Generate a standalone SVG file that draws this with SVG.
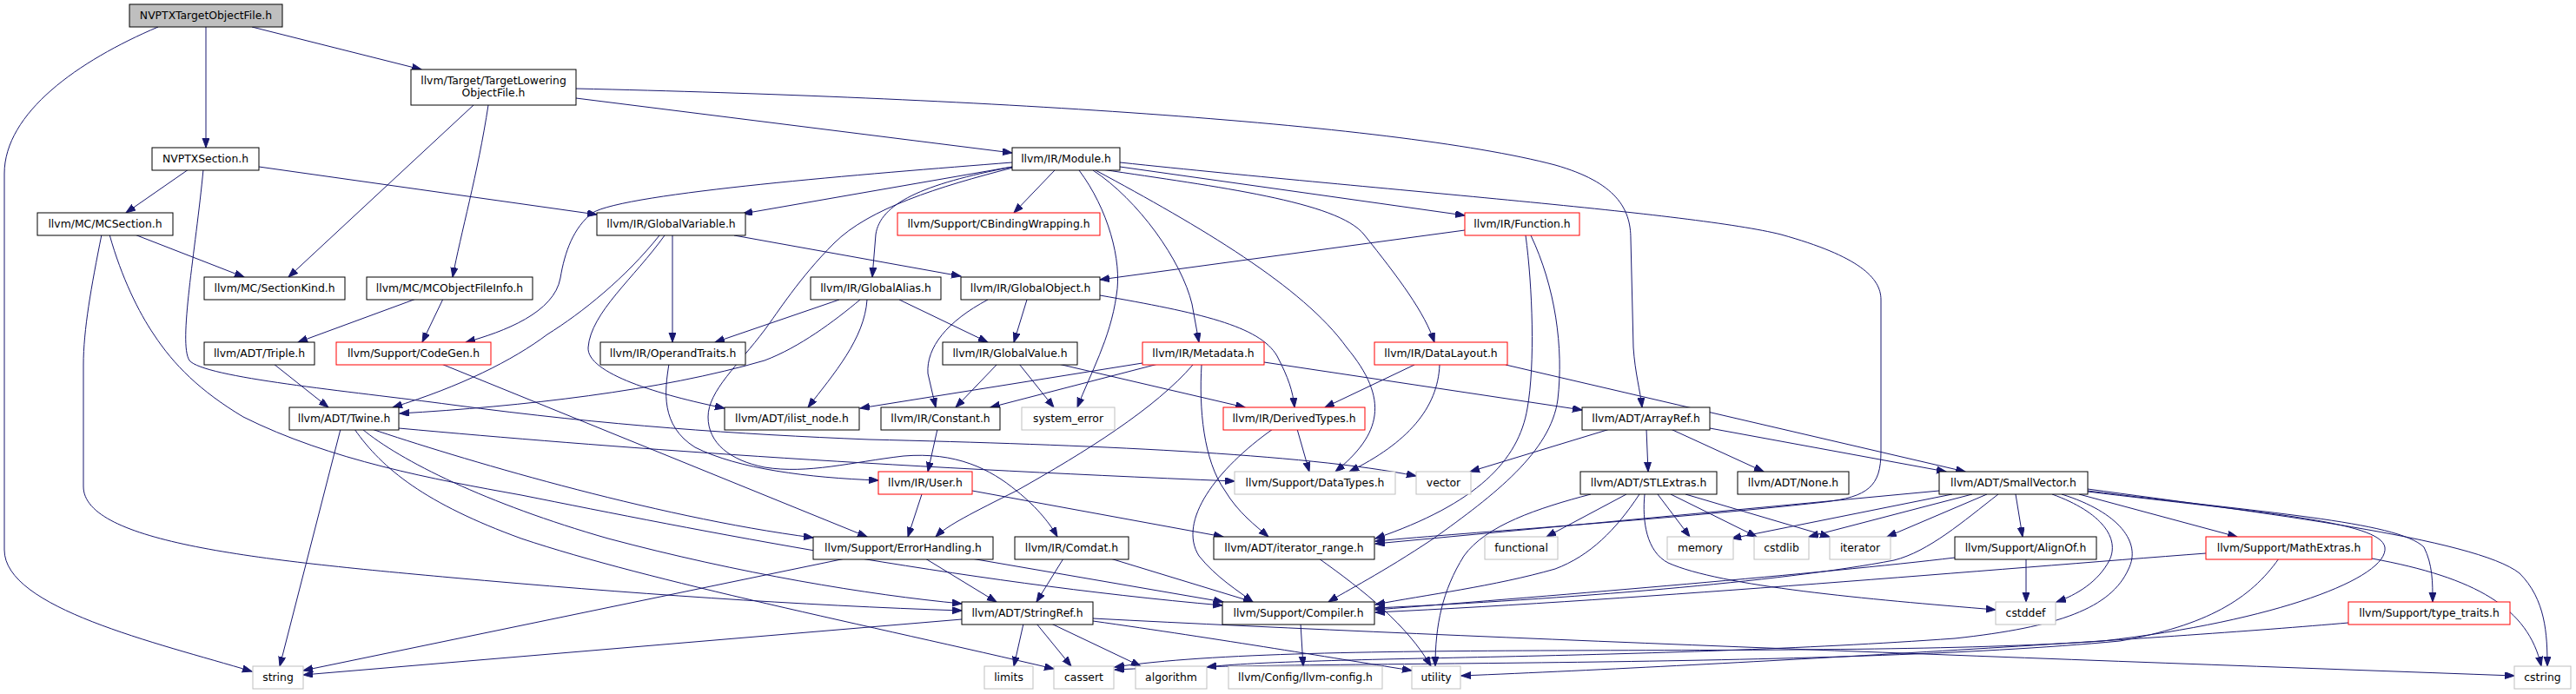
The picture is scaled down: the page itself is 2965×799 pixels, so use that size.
<svg xmlns="http://www.w3.org/2000/svg" width="2965" height="799" viewBox="0 0 2965 799">
<style>
.node rect{fill:#fff;stroke:#000;stroke-width:1}
.node.red rect{stroke:#ff0000}
.node.sys rect{stroke:#bfbfbf}
.node.root rect{fill:#bfbfbf}
.node text{font-family:"DejaVu Sans","Liberation Sans",sans-serif;font-size:12.4px;text-anchor:middle;fill:#000}
#edges path{fill:none;stroke:#191970;stroke-width:1;marker-end:url(#arr)}
</style>
<defs>
<marker id="arr" markerUnits="userSpaceOnUse" markerWidth="12" markerHeight="10" refX="11" refY="4" orient="auto">
<path d="M0,0 L11,4 L0,8 z" fill="#191970" stroke="#191970" stroke-width="1"/>
</marker>
</defs>
<rect width="2965" height="799" fill="#fff"/>
<g id="edges">
<path d="M182,31 C90,70 5,130 5,200 L5,633 C5,700 180,740 290,773"/>
<path d="M237,31 L237,170"/>
<path d="M290,31 L485,80"/>
<path d="M663,113 L1165,176"/>
<path d="M663,102 C1100,112 1600,140 1790,190 C1860,210 1877,240 1877,275 L1880,400 C1882,430 1888,450 1890,469"/>
<path d="M545,121 L332,319"/>
<path d="M562,121 C550,200 530,270 521,319"/>
<path d="M217,195 L145,245"/>
<path d="M298,192 L687,247"/>
<path d="M234,195 C225,290 205,395 218,415 C235,435 400,450 520,466 C700,490 850,500 1000,506 C1250,512 1500,522 1630,548"/>
<path d="M155,270 L281,319"/>
<path d="M117,270 C105,330 96,380 96,420 L96,560 C96,625 300,645 520,665 C720,683 920,697 1107,703"/>
<path d="M126,270 C140,320 160,360 177,385 C200,420 230,450 280,480 C380,530 500,552 600,570 C800,610 1100,670 1407,697"/>
<path d="M1165,187 C1000,200 720,222 682,245 C660,262 650,290 645,320 C638,360 580,382 536,394"/>
<path d="M1165,192 L855,246"/>
<path d="M1166,193 C1080,215 1000,240 960,280 C920,320 895,360 880,380 C850,420 815,450 815,480 C815,510 840,530 880,538 C930,546 980,532 1040,525 C1100,520 1140,540 1170,565 C1195,585 1210,605 1217,618"/>
<path d="M1166,192 C1060,212 1013,235 1008,270 L1004,319"/>
<path d="M1214,196 L1167,245"/>
<path d="M1242,196 C1275,240 1292,300 1285,340 C1278,390 1255,430 1240,469"/>
<path d="M1258,196 C1310,230 1360,300 1372,350 L1380,394"/>
<path d="M1261,196 C1380,260 1500,330 1550,400 C1600,460 1590,500 1537,543"/>
<path d="M1268,195 C1400,215 1540,232 1570,270 C1610,320 1640,360 1651,394"/>
<path d="M1289,192 L1686,248"/>
<path d="M1289,187 C1600,220 1950,245 2050,270 C2140,295 2165,320 2165,345 L2165,520 C2165,560 2150,572 2100,578 C1900,600 1700,612 1583,623"/>
<path d="M759,271 C720,320 670,360 630,385 C590,415 530,445 452,469"/>
<path d="M765,271 C730,320 680,360 677,400 C675,430 760,455 834,470"/>
<path d="M774,271 L774,394"/>
<path d="M845,271 L1106,318"/>
<path d="M966,345 L823,394"/>
<path d="M990,345 C960,370 920,400 880,415 C760,450 600,468 460,476"/>
<path d="M998,345 C995,390 960,430 930,469"/>
<path d="M1035,345 L1137,394"/>
<path d="M1137,345 C1090,370 1066,400 1068,430 L1077,469"/>
<path d="M1182,345 L1167,394"/>
<path d="M1266,340 C1380,360 1450,375 1470,410 C1483,435 1488,450 1490,469"/>
<path d="M1686,265 L1266,322"/>
<path d="M1756,271 C1764,330 1767,420 1758,470 C1748,530 1700,580 1583,620"/>
<path d="M1762,271 C1790,330 1800,400 1793,460 C1785,520 1720,570 1650,620 C1590,660 1550,680 1529,693"/>
<path d="M479,344 L343,394"/>
<path d="M510,344 L486,394"/>
<path d="M1148,419 L1100,469"/>
<path d="M1173,419 L1213,469"/>
<path d="M1218,419 L1433,469"/>
<path d="M1315,418 L990,470"/>
<path d="M1333,419 L1140,469"/>
<path d="M1373,420 C1330,470 1250,520 1170,565 C1120,590 1090,605 1077,618"/>
<path d="M1383,420 C1380,470 1385,530 1410,565 C1425,590 1445,605 1460,618"/>
<path d="M1455,417 L1821,472"/>
<path d="M1628,420 L1525,469"/>
<path d="M1657,420 C1655,470 1620,510 1553,543"/>
<path d="M1733,420 L2262,543"/>
<path d="M315,419 L378,469"/>
<path d="M508,419 L998,618"/>
<path d="M770,419 C765,450 760,490 800,515 C850,540 930,550 1011,553"/>
<path d="M392,494 L322,767"/>
<path d="M459,493 C700,515 1000,537 1421,554"/>
<path d="M428,494 C520,525 750,595 936,619"/>
<path d="M417,494 C460,530 560,580 700,620 C850,660 1000,685 1107,695"/>
<path d="M408,494 C440,540 490,580 600,620 C750,670 1000,720 1213,770"/>
<path d="M1079,494 L1068,543"/>
<path d="M1493,494 L1507,543"/>
<path d="M1465,494 C1400,540 1355,600 1380,640 C1400,665 1425,680 1442,693"/>
<path d="M1853,494 L1692,543"/>
<path d="M1895,494 L1897,543"/>
<path d="M1923,494 L2030,543"/>
<path d="M1968,493 L2240,543"/>
<path d="M1061,569 L1045,618"/>
<path d="M1119,565 L1408,618"/>
<path d="M1831,569 C1770,585 1710,605 1685,640 C1660,680 1652,720 1652,767"/>
<path d="M1872,569 L1780,618"/>
<path d="M1887,569 C1860,610 1830,640 1790,655 C1720,675 1640,685 1583,696"/>
<path d="M1893,569 C1890,600 1895,635 1920,648 C1980,675 2150,690 2297,702"/>
<path d="M1908,569 L1945,618"/>
<path d="M1923,569 L2022,618"/>
<path d="M1940,569 L2106,618"/>
<path d="M2232,565 L1583,626"/>
<path d="M2247,569 L1993,620"/>
<path d="M2270,569 L2082,618"/>
<path d="M2287,569 L2172,618"/>
<path d="M2300,569 C2260,600 2220,635 2180,645 C2050,670 1800,690 1583,700"/>
<path d="M2320,569 L2328,618"/>
<path d="M2362,569 C2420,590 2440,620 2428,645 C2415,670 2390,685 2367,693"/>
<path d="M2373,569 C2440,590 2465,625 2450,655 C2430,700 2370,722 2250,735 C1900,760 1500,755 1389,768"/>
<path d="M2393,569 L2575,618"/>
<path d="M2403,565 C2600,590 2760,600 2790,630 C2800,650 2800,670 2800,693"/>
<path d="M2403,563 C2600,590 2850,620 2900,660 C2930,690 2932,730 2932,767"/>
<path d="M2403,566 C2600,590 2740,600 2745,630 C2750,665 2620,715 2420,738 C2100,760 1500,735 1283,768"/>
<path d="M2250,642 C2100,660 1800,685 1583,702"/>
<path d="M2332,643 L2332,693"/>
<path d="M2539,637 C2300,655 1900,690 1583,705"/>
<path d="M2730,643 C2850,665 2910,700 2925,767"/>
<path d="M2623,643 C2590,690 2540,720 2440,738 C2100,770 1500,760 1283,771"/>
<path d="M2703,717 C2500,735 2000,765 1682,778"/>
<path d="M1518,643 C1570,680 1620,720 1647,767"/>
<path d="M1497,718 L1500,767"/>
<path d="M1065,643 L1147,693"/>
<path d="M1118,643 L1408,693"/>
<path d="M973,643 L349,772"/>
<path d="M1224,643 L1193,693"/>
<path d="M1278,643 L1442,693"/>
<path d="M1178,718 L1167,767"/>
<path d="M1193,718 L1233,767"/>
<path d="M1210,718 L1313,767"/>
<path d="M1258,712 C1700,735 2400,760 2894,778"/>
<path d="M1258,715 C1400,735 1550,760 1625,772"/>
<path d="M1107,713 L349,777"/>
</g>
<g id="n0" class="node root"><rect x="149" y="5" width="176" height="26"/><text x="237" y="22">NVPTXTargetObjectFile.h</text></g>
<g id="n1" class="node"><rect x="473" y="80" width="190" height="41"/><text x="568" y="97">llvm/Target/TargetLowering</text><text x="568" y="111">ObjectFile.h</text></g>
<g id="n2" class="node"><rect x="175" y="170" width="123" height="26"/><text x="236.5" y="187">NVPTXSection.h</text></g>
<g id="n3" class="node"><rect x="1165" y="170" width="124" height="26"/><text x="1227" y="187">llvm/IR/Module.h</text></g>
<g id="n4" class="node"><rect x="43" y="245" width="156" height="26"/><text x="121" y="262">llvm/MC/MCSection.h</text></g>
<g id="n5" class="node"><rect x="687" y="245" width="171" height="26"/><text x="772.5" y="262">llvm/IR/GlobalVariable.h</text></g>
<g id="n6" class="node red"><rect x="1033" y="245" width="233" height="26"/><text x="1149.5" y="262">llvm/Support/CBindingWrapping.h</text></g>
<g id="n7" class="node red"><rect x="1686" y="245" width="132" height="26"/><text x="1752" y="262">llvm/IR/Function.h</text></g>
<g id="n8" class="node"><rect x="235" y="319" width="162" height="26"/><text x="316" y="336">llvm/MC/SectionKind.h</text></g>
<g id="n9" class="node"><rect x="422" y="319" width="191" height="26"/><text x="517.5" y="336">llvm/MC/MCObjectFileInfo.h</text></g>
<g id="n10" class="node"><rect x="933" y="319" width="150" height="26"/><text x="1008" y="336">llvm/IR/GlobalAlias.h</text></g>
<g id="n11" class="node"><rect x="1106" y="319" width="160" height="26"/><text x="1186" y="336">llvm/IR/GlobalObject.h</text></g>
<g id="n12" class="node"><rect x="235" y="394" width="127" height="26"/><text x="298.5" y="411">llvm/ADT/Triple.h</text></g>
<g id="n13" class="node red"><rect x="387" y="394" width="178" height="26"/><text x="476" y="411">llvm/Support/CodeGen.h</text></g>
<g id="n14" class="node"><rect x="691" y="394" width="167" height="26"/><text x="774.5" y="411">llvm/IR/OperandTraits.h</text></g>
<g id="n15" class="node"><rect x="1085" y="394" width="155" height="26"/><text x="1162.5" y="411">llvm/IR/GlobalValue.h</text></g>
<g id="n16" class="node red"><rect x="1315" y="394" width="140" height="26"/><text x="1385" y="411">llvm/IR/Metadata.h</text></g>
<g id="n17" class="node red"><rect x="1582" y="394" width="153" height="26"/><text x="1658.5" y="411">llvm/IR/DataLayout.h</text></g>
<g id="n18" class="node"><rect x="333" y="469" width="126" height="26"/><text x="396" y="486">llvm/ADT/Twine.h</text></g>
<g id="n19" class="node"><rect x="834" y="469" width="155" height="26"/><text x="911.5" y="486">llvm/ADT/ilist_node.h</text></g>
<g id="n20" class="node"><rect x="1014" y="469" width="137" height="26"/><text x="1082.5" y="486">llvm/IR/Constant.h</text></g>
<g id="n21" class="node sys"><rect x="1176" y="469" width="107" height="26"/><text x="1229.5" y="486">system_error</text></g>
<g id="n22" class="node red"><rect x="1408" y="469" width="163" height="26"/><text x="1489.5" y="486">llvm/IR/DerivedTypes.h</text></g>
<g id="n23" class="node"><rect x="1821" y="469" width="147" height="26"/><text x="1894.5" y="486">llvm/ADT/ArrayRef.h</text></g>
<g id="n24" class="node red"><rect x="1011" y="543" width="108" height="26"/><text x="1065" y="560">llvm/IR/User.h</text></g>
<g id="n25" class="node sys"><rect x="1421" y="543" width="185" height="26"/><text x="1513.5" y="560">llvm/Support/DataTypes.h</text></g>
<g id="n26" class="node sys"><rect x="1630" y="543" width="63" height="26"/><text x="1661.5" y="560">vector</text></g>
<g id="n27" class="node"><rect x="1819" y="543" width="157" height="26"/><text x="1897.5" y="560">llvm/ADT/STLExtras.h</text></g>
<g id="n28" class="node"><rect x="2000" y="543" width="128" height="26"/><text x="2064" y="560">llvm/ADT/None.h</text></g>
<g id="n29" class="node"><rect x="2232" y="543" width="171" height="26"/><text x="2317.5" y="560">llvm/ADT/SmallVector.h</text></g>
<g id="n30" class="node"><rect x="936" y="618" width="207" height="26"/><text x="1039.5" y="635">llvm/Support/ErrorHandling.h</text></g>
<g id="n31" class="node"><rect x="1168" y="618" width="131" height="26"/><text x="1233.5" y="635">llvm/IR/Comdat.h</text></g>
<g id="n32" class="node"><rect x="1397" y="618" width="185" height="26"/><text x="1489.5" y="635">llvm/ADT/iterator_range.h</text></g>
<g id="n33" class="node sys"><rect x="1709" y="618" width="84" height="26"/><text x="1751" y="635">functional</text></g>
<g id="n34" class="node sys"><rect x="1919" y="618" width="76" height="26"/><text x="1957" y="635">memory</text></g>
<g id="n35" class="node sys"><rect x="2019" y="618" width="63" height="26"/><text x="2050.5" y="635">cstdlib</text></g>
<g id="n36" class="node sys"><rect x="2106" y="618" width="70" height="26"/><text x="2141" y="635">iterator</text></g>
<g id="n37" class="node"><rect x="2250" y="618" width="163" height="26"/><text x="2331.5" y="635">llvm/Support/AlignOf.h</text></g>
<g id="n38" class="node red"><rect x="2539" y="618" width="191" height="26"/><text x="2634.5" y="635">llvm/Support/MathExtras.h</text></g>
<g id="n39" class="node"><rect x="1107" y="693" width="151" height="26"/><text x="1182.5" y="710">llvm/ADT/StringRef.h</text></g>
<g id="n40" class="node"><rect x="1407" y="693" width="175" height="26"/><text x="1494.5" y="710">llvm/Support/Compiler.h</text></g>
<g id="n41" class="node sys"><rect x="2297" y="693" width="69" height="26"/><text x="2331.5" y="710">cstddef</text></g>
<g id="n42" class="node red"><rect x="2703" y="693" width="186" height="26"/><text x="2796" y="710">llvm/Support/type_traits.h</text></g>
<g id="n43" class="node sys"><rect x="291" y="767" width="58" height="26"/><text x="320" y="784">string</text></g>
<g id="n44" class="node sys"><rect x="1133" y="767" width="56" height="26"/><text x="1161" y="784">limits</text></g>
<g id="n45" class="node sys"><rect x="1213" y="767" width="69" height="26"/><text x="1247.5" y="784">cassert</text></g>
<g id="n46" class="node sys"><rect x="1307" y="767" width="82" height="26"/><text x="1348" y="784">algorithm</text></g>
<g id="n47" class="node sys"><rect x="1414" y="767" width="177" height="26"/><text x="1502.5" y="784">llvm/Config/llvm-config.h</text></g>
<g id="n48" class="node sys"><rect x="1625" y="767" width="56" height="26"/><text x="1653" y="784">utility</text></g>
<g id="n49" class="node sys"><rect x="2894" y="767" width="65" height="26"/><text x="2926.5" y="784">cstring</text></g>
</svg>
